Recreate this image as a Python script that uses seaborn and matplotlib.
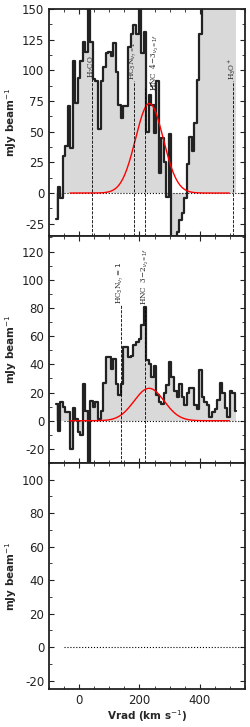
import numpy as np
import pandas as pd
import seaborn as sns
import matplotlib
matplotlib.use("Agg")
import matplotlib.pyplot as plt
from matplotlib.ticker import MultipleLocator, AutoMinorLocator

sns.set_style("ticks")
plt.rcParams["font.family"] = ["DejaVu Sans"]
plt.rcParams["axes.unicode_minus"] = False
plt.rcParams["mathtext.fontset"] = "dejavusans"

# channel grid (km/s), 72 channels
v_start = -76.0
dv = 8.4

# top panel spectrum (mJy/beam), values above 150 are off scale
top_flux = [-21, 5, -4, 30, 38, 71, 37, 108, 73, 94,
            108, 123, 115, 170, 123, 93, 91, 52, 91, 103,
            114, 115, 112, 122, 99, 72, 61, 71, 71, 119,
            130, 137, 130, 170, 114, 131, 50, 80, 72, 49,
            91, 16, 45, 25, -3, 48, -40, -40, -32, -22,
            -16, -4, 24, 46, 34, 57, 92, 130, 200, 200,
            200, 200, 200, 200, 200, 200, 200, 200, 200, 200,
            200, 200]

# middle panel spectrum (mJy/beam)
mid_flux = [12, -7, 13, 10, 6, 6, -20, 9, 1, -8,
            -10, 26, 7, -35, 14, 10, 13, 1, 7, 27,
            45, 45, 37, 44, 26, 18, 26, 52, 52, 45,
            46, 54, 56, 58, 68, 81, 43, 40, 31, 39,
            18, 13, 12, 20, 25, 42, 31, 21, 17, 26,
            17, 11, 20, 23, 23, 11, 8, 36, 17, 13,
            11, 3, 6, 8, 15, 27, 20, 9, 3, 21,
            20, 7]

# gaussian fits: amplitude, centre, sigma
top_fit = (73, 233, 46)
mid_fit = (23, 232, 50)
fit_range = (-30, 498)

# line markers: (label, velocity, height)
top_lines = [("H$_2$CO", 42, 93), ("HC$_3$N$_{\\nu_7=1}$", 181, 91),
             ("H$_3$O$^+$", 509, 91)]
top_hnc = ("HNC  4$-$3$_{\\nu_2=1f}$", 220, 86)
mid_lines = [("HC$_3$N$_{\\nu_7}=1$", 138, 82), ("HNC  3$-$2$_{\\nu_2=1f}$", 220, 81)]

vel = v_start + dv * np.arange(len(top_flux))

fig = plt.figure(figsize=(2.5, 7.27), dpi=100)
x0, w = 0.196, 0.784
ax1 = fig.add_axes([x0, 0.6754, w, 0.3122])
ax2 = fig.add_axes([x0, 0.3631, w, 0.3122])
ax3 = fig.add_axes([x0, 0.0523, w, 0.311])


def draw_spec(ax, flux, fit):
    df = pd.DataFrame({"v": vel, "f": flux})
    ax.fill_between(df.v, 0, df.f, step="mid", color="#d9d9d9", lw=0, zorder=1)
    sns.lineplot(data=df, x="v", y="f", drawstyle="steps-mid", color="#222222",
                 lw=1.6, ax=ax, zorder=3)
    vv = np.linspace(fit_range[0], fit_range[1], 300)
    amp, cen, sig = fit
    g = pd.DataFrame({"v": vv, "g": amp * np.exp(-0.5 * ((vv - cen) / sig) ** 2)})
    sns.lineplot(data=g, x="v", y="g", color="red", lw=1.0, ax=ax, zorder=4)


draw_spec(ax1, top_flux, top_fit)
draw_spec(ax2, mid_flux, mid_fit)

lab_font = dict(family="DejaVu Serif", fontsize=5.2, rotation=90, ha="center", va="bottom")

for ax in (ax1, ax2, ax3):
    ax.axhline(0, xmin=(-50 + 100) / 650, xmax=1, color="k", ls=":", lw=0.8, zorder=2)

ylims = [(-35, 150), (-30, 131), (-25, 110)]
for ax, lim in zip((ax1, ax2), ylims):
    pass

for lab, v, h in top_lines:
    ax1.plot([v, v], [-35, h], color="k", ls="--", lw=0.6, zorder=5)
    ax1.text(v, h + 1, lab, **lab_font)
lab, v, h = top_hnc
ax1.plot([v, v], [-35, h], color="k", ls="--", lw=0.6, zorder=5)
ax1.plot([234, 245], [90, 85], color="k", lw=0.6, zorder=5)
ax1.text(250, 83, lab, **lab_font)

for lab, v, h in mid_lines:
    ax2.plot([v, v], [-30, h], color="k", ls="--", lw=0.6, zorder=5)
    ax2.text(v, h + 1, lab, clip_on=False, **lab_font)

steps = [25, 20, 20]
for ax, lim, st in zip((ax1, ax2, ax3), ylims, steps):
    ax.set_xlim(-100, 550)
    ax.set_ylim(*lim)
    ax.yaxis.set_major_locator(MultipleLocator(st))
    ax.yaxis.set_minor_locator(AutoMinorLocator(2))
    ax.xaxis.set_major_locator(MultipleLocator(200))
    ax.xaxis.set_minor_locator(MultipleLocator(50))
    ax.tick_params(which="both", direction="in", top=True, right=True,
                   labelsize=8.5, colors="#222222")
    ax.tick_params(which="major", length=3.5, width=0.8)
    ax.tick_params(which="minor", length=2, width=0.6)
    for s in ax.spines.values():
        s.set_linewidth(1.3)
        s.set_color("#222222")
    ax.set_ylabel("mJy beam$^{-1}$", fontsize=7.5, fontweight="bold", labelpad=2)
    ax.set_xlabel("")

ax1.tick_params(labelbottom=False)
ax2.tick_params(labelbottom=False)
ax3.set_xlabel("Vrad (km s$^{-1}$)", fontsize=7.5, fontweight="bold", labelpad=1)

fig.savefig("out.png", dpi=100)
